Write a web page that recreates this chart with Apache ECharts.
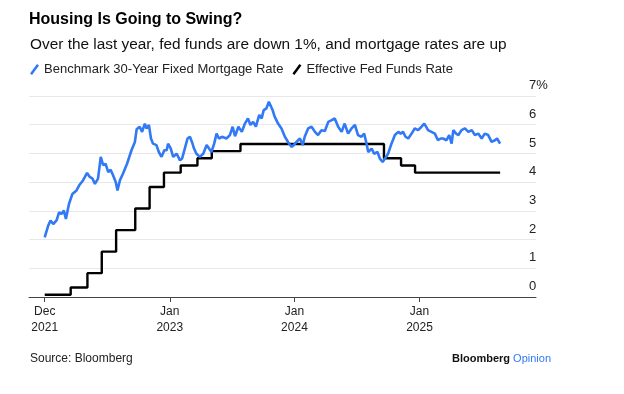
<!DOCTYPE html>
<html>
<head>
<meta charset="utf-8">
<script src="https://cdn.jsdelivr.net/npm/echarts@6/dist/echarts.min.js"></script>
<style>
html,body{margin:0;padding:0;background:#fff;}
#chart{width:624px;height:394px;}
</style>
</head>
<body>
<div id="chart"></div>
<script>
// ---- Data ----
var mortgageDates = [
'2021-12-31','2022-01-10','2022-01-17','2022-01-25','2022-02-04','2022-02-11','2022-02-18','2022-02-25','2022-03-03','2022-03-12',
'2022-03-22','2022-04-03','2022-04-11','2022-04-22','2022-05-04','2022-05-12','2022-05-20','2022-05-27','2022-06-05','2022-06-13',
'2022-06-20','2022-06-27','2022-07-05','2022-07-12','2022-07-19','2022-07-27','2022-08-01','2022-08-08','2022-08-17','2022-08-29',
'2022-09-11','2022-09-21','2022-09-26','2022-10-05','2022-10-12','2022-10-20','2022-10-25','2022-11-01','2022-11-07','2022-11-13',
'2022-11-23','2022-11-30','2022-12-08','2022-12-16','2022-12-23','2022-12-27','2023-01-04','2023-01-11','2023-01-21','2023-01-31',
'2023-02-06','2023-02-14','2023-02-22','2023-03-01','2023-03-07','2023-03-13','2023-03-20','2023-03-30','2023-04-09','2023-04-19',
'2023-04-26','2023-05-03','2023-05-11','2023-05-18','2023-05-25','2023-06-03','2023-06-16','2023-06-26','2023-07-04','2023-07-11',
'2023-07-21','2023-07-31','2023-08-09','2023-08-18','2023-08-25','2023-09-02','2023-09-10','2023-09-20','2023-09-27','2023-10-03',
'2023-10-11','2023-10-18','2023-10-23','2023-10-29','2023-11-04','2023-11-14','2023-11-24','2023-12-04','2023-12-13','2023-12-23',
'2023-12-30','2024-01-07','2024-01-17','2024-01-25','2024-01-31','2024-02-10','2024-02-20','2024-03-01','2024-03-10','2024-03-20',
'2024-03-30','2024-04-09','2024-04-19','2024-04-28','2024-05-08','2024-05-18','2024-05-27','2024-06-06','2024-06-16','2024-06-26',
'2024-07-05','2024-07-15','2024-07-23','2024-07-30','2024-08-04','2024-08-14','2024-08-21','2024-08-31','2024-09-07','2024-09-15',
'2024-09-22','2024-10-01','2024-10-11','2024-10-21','2024-10-31','2024-11-07','2024-11-14','2024-11-21','2024-11-29','2024-12-09',
'2024-12-18','2024-12-28','2025-01-07','2025-01-15','2025-01-26','2025-02-05','2025-02-15','2025-02-24','2025-03-04','2025-03-11',
'2025-03-21','2025-03-29','2025-04-05','2025-04-10','2025-04-18','2025-04-25','2025-05-04','2025-05-14','2025-05-24','2025-06-03',
'2025-06-12','2025-06-22','2025-07-02','2025-07-11','2025-07-21','2025-07-31','2025-08-10','2025-08-16','2025-08-25'
];
var mortgageValues = [
2.08,2.48,2.66,2.54,2.68,2.95,2.89,3.01,2.72,3.24,
3.59,3.71,3.89,4.06,4.32,4.18,4.12,3.94,4.12,4.88,
4.59,4.64,4.35,4.43,4.24,4.00,3.71,4.06,4.29,4.64,
5.11,5.40,5.84,5.93,5.75,6.04,5.87,5.99,5.52,5.34,
5.29,5.05,4.88,5.11,5.11,5.34,5.17,4.88,4.99,4.76,
4.82,5.17,5.52,5.58,5.40,5.17,4.99,4.88,4.99,5.29,
5.17,5.05,5.34,5.69,5.52,5.58,5.52,5.64,5.93,5.60,
5.93,5.75,6.04,6.22,5.99,6.10,5.93,6.34,6.22,6.51,
6.57,6.80,6.75,6.51,6.28,6.04,5.87,5.58,5.40,5.23,
5.29,5.40,5.52,5.29,5.58,5.87,5.93,5.75,5.64,5.81,
5.78,6.10,6.16,6.22,5.93,5.75,6.04,5.69,5.87,5.99,
5.64,5.58,5.69,5.34,5.05,5.17,4.99,5.05,4.82,4.70,
4.82,4.99,5.34,5.64,5.75,5.69,5.75,5.58,5.52,5.69,
5.87,5.81,5.93,6.04,5.81,5.75,5.69,5.46,5.52,5.52,
5.46,5.64,5.34,5.81,5.69,5.64,5.81,5.87,5.75,5.81,
5.64,5.69,5.52,5.69,5.64,5.40,5.46,5.52,5.34
];
var fedDates = [
'2021-12-31','2022-03-17','2022-05-05','2022-06-16','2022-07-28','2022-09-22','2022-11-03','2022-12-15',
'2023-02-02','2023-03-23','2023-05-04','2023-07-27','2024-09-19','2024-11-08','2024-12-19','2025-08-25'
];
var fedValues = [0.08,0.33,0.83,1.58,2.33,3.08,3.83,4.33,4.58,4.83,5.08,5.33,4.83,4.58,4.33,4.33];

var xTickDates = ['2021-12-31','2023-01-01','2024-01-01','2025-01-01'];
var xTickLabels = ['Dec\n2021','Jan\n2023','Jan\n2024','Jan\n2025'];
var yTickValues = [0,1,2,3,4,5,6,7];
var yTickLabels = ['0','1','2','3','4','5','6','7%'];

var seriesNames = ['Benchmark 30-Year Fixed Mortgage Rate','Effective Fed Funds Rate'];
var titleText = 'Housing Is Going to Swing?';
var subtitleText = 'Over the last year, fed funds are down 1%, and mortgage rates are up';
var sourceText = 'Source: Bloomberg';

// ---- Build ----
function parseDay(s){ var p=s.split('-'); return Date.UTC(+p[0], +p[1]-1, +p[2]); }
var tickTimes = xTickDates.map(parseDay);
function zip(d, v){ return d.map(function(x,i){ return [parseDay(x), v[i]]; }); }

var FONT = '"Liberation Sans", Arial, sans-serif';
var BLUE = '#3179f5';
var slash = 'path://M7,0 L9,1.6 L2,11 L0,9.4 Z';

var chart = echarts.init(document.getElementById('chart'), null, {renderer:'canvas'});
chart.setOption({
  animation: false,
  backgroundColor: '#fff',
  textStyle: {fontFamily: FONT},
  title: [
    {text: titleText, left: 29, top: 12, padding: 0,
     textStyle: {fontFamily: FONT, fontSize: 16, fontWeight: 'bold', color: '#000'}},
    {text: subtitleText, left: 30, top: 37, padding: 0,
     textStyle: {fontFamily: FONT, fontSize: 15.4, fontWeight: 'normal', color: '#111'}},
    {text: sourceText, left: 30, top: 353, padding: 0,
     textStyle: {fontFamily: FONT, fontSize: 12, fontWeight: 'normal', color: '#222'}},
    {text: '{a|Bloomberg}{b| Opinion}', left: 452, top: 353, padding: 0,
     textStyle: {rich: {
       a: {fontFamily: FONT, fontSize: 11, fontWeight: 'bold', color: '#111'},
       b: {fontFamily: FONT, fontSize: 11, fontWeight: 'normal', color: BLUE}
     }}}
  ],
  legend: {
    left: 30, top: 63, padding: 0,
    itemWidth: 9, itemHeight: 11, itemGap: 9,
    icon: slash,
    textStyle: {fontFamily: FONT, fontSize: 13, color: '#222'},
    data: seriesNames
  },
  grid: {left: 29, right: 88, top: 96, bottom: 97, containLabel: false},
  xAxis: {
    type: 'value',
    min: parseDay('2021-11-15'),
    max: parseDay('2025-12-08'),
    axisLine: {show: true, lineStyle: {color: '#444', width: 1}},
    axisTick: {show: true, length: 5, customValues: tickTimes, lineStyle: {color: '#444'}},
    axisLabel: {
      customValues: tickTimes,
      margin: 7,
      fontFamily: FONT, fontSize: 12, lineHeight: 16, color: '#222',
      formatter: function(v){
        for (var i=0;i<tickTimes.length;i++){ if (Math.abs(tickTimes[i]-v) < 86400000*2) return xTickLabels[i]; }
        return '';
      }
    },
    splitLine: {show: false}
  },
  yAxis: {
    type: 'value', position: 'right',
    min: 0, max: 7, interval: 1,
    axisLine: {show: false},
    axisTick: {show: false},
    axisLabel: {
      margin: -7, align: 'left', verticalAlign: 'bottom', padding: [0,0,4,0],
      fontFamily: FONT, fontSize: 13, lineHeight: 13, color: '#222',
      formatter: function(v){ var i = yTickValues.indexOf(v); return i>=0 ? yTickLabels[i] : ''; }
    },
    splitLine: {show: true, lineStyle: {color: '#e8e8e8', width: 1}}
  },
  series: [
    {name: seriesNames[0], type: 'line', data: zip(mortgageDates, mortgageValues),
     showSymbol: false, symbol: 'none', smooth: false,
     lineStyle: {color: BLUE, width: 2.6}, itemStyle: {color: BLUE}, z: 3},
    {name: seriesNames[1], type: 'line', step: 'end', data: zip(fedDates, fedValues),
     showSymbol: false, symbol: 'none',
     lineStyle: {color: '#000', width: 2.4}, itemStyle: {color: '#000'}, z: 2}
  ]
});
</script>
</body>
</html>
